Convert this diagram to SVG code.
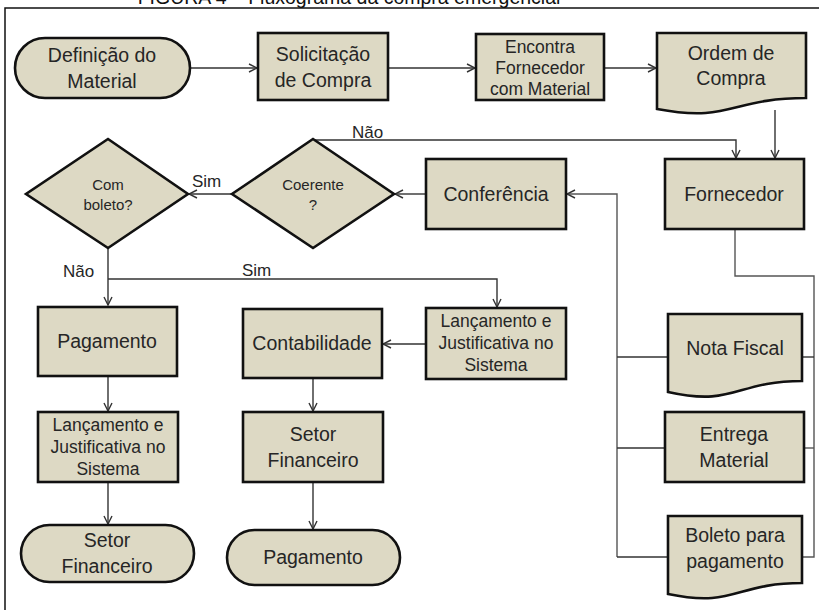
<svg xmlns="http://www.w3.org/2000/svg" width="819" height="610" viewBox="0 0 819 610">
<defs>
<marker id="arr" markerWidth="10" markerHeight="10" refX="9" refY="5" orient="auto" markerUnits="userSpaceOnUse">
<path d="M1,1 L9,5 L1,9" fill="none" stroke="#333" stroke-width="1.4"/>
</marker>
<style>
.n{fill:#DDD9C4;stroke:#111;stroke-width:2.6}
.t{font-family:"Liberation Sans",Arial,sans-serif;fill:#262626;text-anchor:middle}
.b{font-size:19.5px}
.m{font-size:17.5px}
.s{font-size:15px}
.c{fill:none;stroke:#333;stroke-width:1.4}
.g{fill:none;stroke:#555;stroke-width:1.4}
.l{font-family:"Liberation Sans",Arial,sans-serif;font-size:17px;fill:#262626}
</style>
</defs>
<rect x="0" y="0" width="819" height="610" fill="#fff"/>
<text x="349" y="4" font-family="Liberation Sans,Arial,sans-serif" font-size="19.5" text-anchor="middle" fill="#111">FIGURA 4 – Fluxograma da compra emergencial</text>
<path d="M5,610 V8 H819" fill="none" stroke="#111" stroke-width="1.5"/>

<g id="connectors">
<line class="c" x1="190" y1="68" x2="257" y2="68" marker-end="url(#arr)"/>
<line class="c" x1="388" y1="68" x2="475" y2="68" marker-end="url(#arr)"/>
<line class="c" x1="604" y1="68" x2="656" y2="68" marker-end="url(#arr)"/>
<line class="c" x1="775" y1="110" x2="775" y2="158" marker-end="url(#arr)"/>
<path class="c" d="M313,140 H736 V158" marker-end="url(#arr)"/>
<text class="l" x="352" y="138">Não</text>
<line class="c" x1="426" y1="194" x2="395" y2="194" marker-end="url(#arr)"/>
<line class="c" x1="232" y1="194" x2="189" y2="194" marker-end="url(#arr)"/>
<text class="l" x="192" y="187">Sim</text>
<line class="c" x1="108" y1="248" x2="108" y2="305" marker-end="url(#arr)"/>
<text class="l" x="63" y="277">Não</text>
<path class="c" d="M108,279 H497 V307" marker-end="url(#arr)"/>
<text class="l" x="242" y="276">Sim</text>
<line class="c" x1="426" y1="344" x2="383" y2="344" marker-end="url(#arr)"/>
<line class="c" x1="108" y1="376" x2="108" y2="411" marker-end="url(#arr)"/>
<line class="c" x1="313" y1="378" x2="313" y2="411" marker-end="url(#arr)"/>
<line class="c" x1="108" y1="482" x2="108" y2="524" marker-end="url(#arr)"/>
<line class="c" x1="313" y1="482" x2="313" y2="529" marker-end="url(#arr)"/>
<path class="g" d="M617,557 V194 H567" marker-end="url(#arr)"/>
<line class="c" x1="617" y1="357" x2="668" y2="357"/>
<line class="c" x1="617" y1="448" x2="665" y2="448"/>
<line class="c" x1="617" y1="557" x2="668" y2="557"/>
<path class="g" d="M735,229 V276 H814 V557 H802"/>
<line class="c" x1="802" y1="357" x2="814" y2="357"/>
<line class="g" x1="804" y1="448" x2="814" y2="448" stroke="#888"/>
</g>

<g id="definicao">
<rect class="n" x="15" y="38" width="175" height="60" rx="30"/>
<text class="t b" x="102" y="62">Definição do</text>
<text class="t b" x="102" y="88">Material</text>
</g>
<g id="solicitacao">
<rect class="n" x="258" y="33" width="130" height="67"/>
<text class="t b" x="323" y="61">Solicitação</text>
<text class="t b" x="323" y="87">de Compra</text>
</g>
<g id="encontra">
<rect class="n" x="476" y="34" width="128" height="66"/>
<text class="t m" x="540" y="53">Encontra</text>
<text class="t m" x="540" y="74">Fornecedor</text>
<text class="t m" x="540" y="95">com Material</text>
</g>
<g id="ordem">
<path class="n" d="M657,33 H806 V98 C731,98 731,123 657,109 Z"/>
<text class="t b" x="731" y="60">Ordem de</text>
<text class="t b" x="731" y="85">Compra</text>
</g>
<g id="fornecedor">
<rect class="n" x="665" y="159" width="139" height="70"/>
<text class="t b" x="734" y="201">Fornecedor</text>
</g>
<g id="conferencia">
<rect class="n" x="426" y="159" width="140" height="70"/>
<text class="t b" x="496" y="201">Conferência</text>
</g>
<g id="coerente">
<polygon class="n" points="313,139 394,194 313,248 232,194"/>
<text class="t s" x="313" y="190">Coerente</text>
<text class="t s" x="313" y="210">?</text>
</g>
<g id="comboleto">
<polygon class="n" points="108,139 188,194 108,248 26,194"/>
<text class="t s" x="108" y="190">Com</text>
<text class="t s" x="108" y="210">boleto?</text>
</g>
<g id="pagamento1">
<rect class="n" x="38" y="307" width="139" height="69"/>
<text class="t b" x="107" y="348">Pagamento</text>
</g>
<g id="lancamento2">
<rect class="n" x="426" y="308" width="140" height="71"/>
<text class="t m" x="496" y="327">Lançamento e</text>
<text class="t m" x="496" y="349">Justificativa no</text>
<text class="t m" x="496" y="371">Sistema</text>
</g>
<g id="contabilidade">
<rect class="n" x="243" y="309" width="139" height="69"/>
<text class="t b" x="312" y="350">Contabilidade</text>
</g>
<g id="lancamento1">
<rect class="n" x="38" y="412" width="140" height="70"/>
<text class="t m" x="108" y="431">Lançamento e</text>
<text class="t m" x="108" y="453">Justificativa no</text>
<text class="t m" x="108" y="475">Sistema</text>
</g>
<g id="setor2">
<rect class="n" x="243" y="412" width="140" height="70"/>
<text class="t b" x="313" y="441">Setor</text>
<text class="t b" x="313" y="467">Financeiro</text>
</g>
<g id="setor1">
<rect class="n" x="21" y="525" width="173" height="57" rx="28.5"/>
<text class="t b" x="107" y="547">Setor</text>
<text class="t b" x="107" y="573">Financeiro</text>
</g>
<g id="pagamento2">
<rect class="n" x="227" y="530" width="173" height="55" rx="27.5"/>
<text class="t b" x="313" y="564">Pagamento</text>
</g>
<g id="notafiscal">
<path class="n" d="M668,314 H802 V381 C735,381 735,407 668,392 Z"/>
<text class="t b" x="735" y="355">Nota Fiscal</text>
</g>
<g id="entrega">
<rect class="n" x="665" y="412" width="139" height="70"/>
<text class="t b" x="734" y="441">Entrega</text>
<text class="t b" x="734" y="467">Material</text>
</g>
<g id="boleto">
<path class="n" d="M668,516 H802 V583 C735,583 735,608 668,594 Z"/>
<text class="t b" x="735" y="542">Boleto para</text>
<text class="t b" x="735" y="568">pagamento</text>
</g>
</svg>
